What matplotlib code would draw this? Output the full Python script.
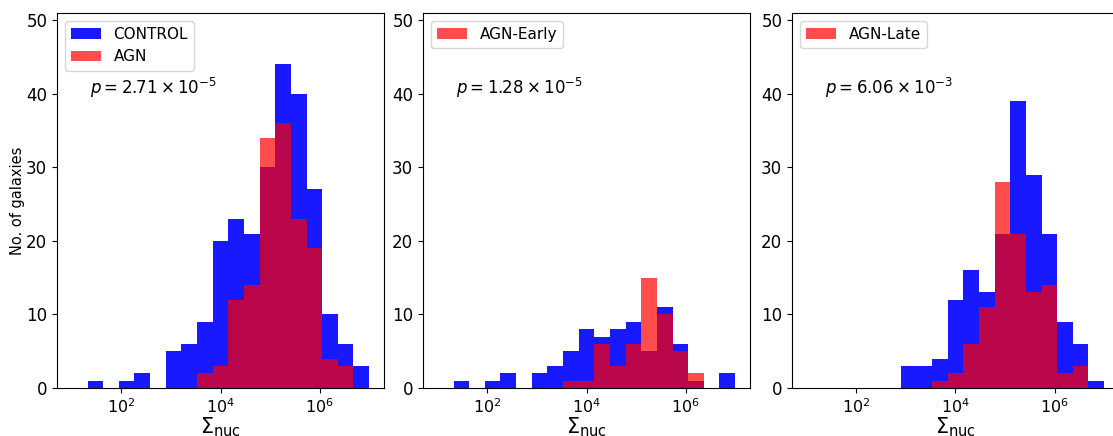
import numpy as np
import matplotlib
matplotlib.use('Agg')
import matplotlib.pyplot as plt

# log10 bin edges for Sigma_nuc (19 bins from 10 to 1e7)
log_lo, log_hi, n_bins = 1, 7, 19

# counts per bin
control_all = [0, 1, 0, 1, 2, 0, 5, 6, 9, 20, 23, 21, 30, 44, 40, 27, 10, 6, 3]
agn_all = [0, 0, 0, 0, 0, 0, 0, 0, 2, 3, 12, 14, 34, 36, 23, 19, 4, 3, 0]

control_early = [0, 1, 0, 1, 2, 0, 2, 3, 5, 8, 7, 8, 9, 5, 11, 6, 1, 0, 2]
agn_early = [0, 0, 0, 0, 0, 0, 0, 0, 1, 1, 6, 3, 6, 15, 10, 5, 2, 0, 0]

control_late = [0, 0, 0, 0, 0, 0, 3, 3, 4, 12, 16, 13, 21, 39, 29, 21, 9, 6, 1]
agn_late = [0, 0, 0, 0, 0, 0, 0, 0, 1, 2, 6, 11, 28, 21, 13, 14, 2, 3, 0]

labels = ['AGN', 'AGN-Early', 'AGN-Late']
pvals = [r'$p = 2.71 \times 10^{-5}$',
         r'$p = 1.28 \times 10^{-5}$',
         r'$p = 6.06 \times 10^{-3}$']

bins = np.logspace(log_lo, log_hi, n_bins + 1)
centers = np.sqrt(bins[:-1] * bins[1:])

W, H = 1113, 436
fig = plt.figure(figsize=(W / 100, H / 100), dpi=100)

lefts = [57, 423, 792]
panels = [(control_all, agn_all), (control_early, agn_early), (control_late, agn_late)]

for k, (ctrl, agn) in enumerate(panels):
    ax = fig.add_axes([lefts[k] / W, 48 / H, 327 / W, 375 / H])
    if k == 0:
        ax.hist(centers, bins=bins, weights=ctrl, color='blue', alpha=0.9, label='CONTROL')
    else:
        ax.hist(centers, bins=bins, weights=ctrl, color='blue', alpha=0.9)
    ax.hist(centers, bins=bins, weights=agn, color='red', alpha=0.7, label=labels[k])
    ax.set_xscale('log')
    ax.set_xlim(10 ** 0.7, 10 ** 7.3)
    ax.set_ylim(0, 51)
    ax.set_yticks([0, 10, 20, 30, 40, 50])
    ax.tick_params(axis='y', labelsize=12)
    ax.tick_params(axis='x', labelsize=11.5)
    ax.xaxis.set_minor_locator(matplotlib.ticker.NullLocator())
    ax.set_xticks([1e2, 1e4, 1e6])
    ax.set_xlabel(r'$\Sigma_{\rm nuc}$', fontsize=15, labelpad=-1)
    if k == 0:
        ax.set_ylabel('No. of galaxies', fontsize=10.5, labelpad=1)
    ax.text(0.1, 0.785, pvals[k], transform=ax.transAxes, fontsize=12)
    ax.legend(loc='upper left', fontsize=11)

fig.savefig('out.png', dpi=100)
